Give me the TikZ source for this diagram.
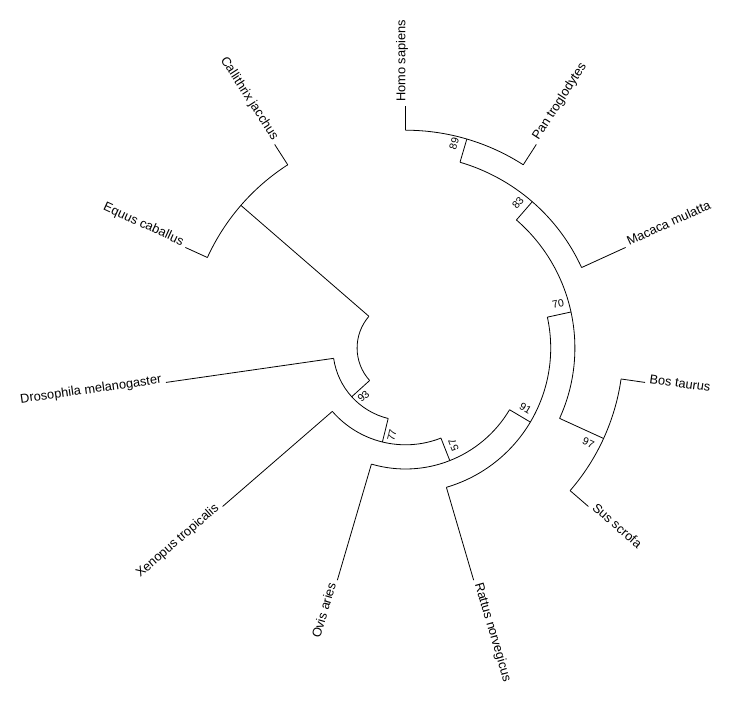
\documentclass[tikz,border=0pt]{standalone}
\usepackage{fontspec}
\setmainfont{Liberation Sans}
\usetikzlibrary{calc}
\begin{document}
\begin{tikzpicture}[x=1pt,y=1pt,
  br/.style={line width=0.8pt, black},
  tip/.style={font=\fontsize{12.8}{14}\selectfont, inner sep=0pt},
  nl/.style={font=\fontsize{10.5}{12}\selectfont, inner sep=0pt}]
\useasboundingbox (-405.5,-356) rectangle (334.5,348);
% ---- internal nodes (own position) and their attachment points on the parent arc
\coordinate (nEC)  at (139.09:217.8); \coordinate (nEC0) at (139.09:48.4);
\coordinate (n93)  at (222.19:72.6);  \coordinate (n930) at (222.19:48.4);
\coordinate (n77)  at (256.2:96.8);   \coordinate (n770) at (256.2:72.6);
\coordinate (n57)  at (-68.52:121);   \coordinate (n570) at (-68.52:96.8);
\coordinate (n91)  at (-30.68:145.2); \coordinate (n910) at (-30.68:121);
\coordinate (n70)  at (12.27:169.4);  \coordinate (n700) at (12.27:145.2);
\coordinate (n97)  at (-24.55:217.8); \coordinate (n970) at (-24.55:169.4);
\coordinate (n83)  at (49.09:193.6);  \coordinate (n830) at (49.09:169.4);
\coordinate (n89)  at (73.64:217.8);  \coordinate (n890) at (73.64:193.6);
% ---- tips
\coordinate (tHomo) at (90:242);      \coordinate (tHomo0) at (90:217.8);
\coordinate (tPan)  at (57.27:242);   \coordinate (tPan0)  at (57.27:217.8);
\coordinate (tMac)  at (24.55:242);   \coordinate (tMac0)  at (24.55:193.6);
\coordinate (tBos)  at (-8.18:242);   \coordinate (tBos0)  at (-8.18:217.8);
\coordinate (tSus)  at (-40.91:242);  \coordinate (tSus0)  at (-40.91:217.8);
\coordinate (tRat)  at (-73.64:242);  \coordinate (tRat0)  at (-73.64:145.2);
\coordinate (tOvis) at (253.64:242);  \coordinate (tOvis0) at (253.64:121);
\coordinate (tXen)  at (220.91:242);  \coordinate (tXen0)  at (220.91:96.8);
\coordinate (tDro)  at (188.18:242);  \coordinate (tDro0)  at (188.18:72.6);
\coordinate (tEqu)  at (155.45:242);  \coordinate (tEqu0)  at (155.45:217.8);
\coordinate (tCal)  at (122.73:242);  \coordinate (tCal0)  at (122.73:217.8);
% ---- arcs
\draw[br] (nEC0) arc[start angle=139.09, end angle=222.19, radius=48.4];
\draw[br] (tDro0) arc[start angle=188.18, end angle=256.2, radius=72.6];
\draw[br] (tXen0) arc[start angle=220.91, end angle=291.48, radius=96.8];
\draw[br] (tOvis0) arc[start angle=253.64, end angle=329.32, radius=121];
\draw[br] (tRat0) arc[start angle=-73.64, end angle=12.27, radius=145.2];
\draw[br] (n970) arc[start angle=-24.55, end angle=49.09, radius=169.4];
\draw[br] (tMac0) arc[start angle=24.55, end angle=73.64, radius=193.6];
\draw[br] (tPan0) arc[start angle=57.27, end angle=90, radius=217.8];
\draw[br] (tSus0) arc[start angle=-40.91, end angle=-8.18, radius=217.8];
\draw[br] (tCal0) arc[start angle=122.73, end angle=155.45, radius=217.8];
% ---- radial edges
\draw[br] (nEC0) -- (nEC);
\draw[br] (n930) -- (n93);
\draw[br] (n770) -- (n77);
\draw[br] (n570) -- (n57);
\draw[br] (n910) -- (n91);
\draw[br] (n700) -- (n70);
\draw[br] (n970) -- (n97);
\draw[br] (n830) -- (n83);
\draw[br] (n890) -- (n89);
\draw[br] (tHomo0) -- (tHomo);
\draw[br] (tPan0) -- (tPan);
\draw[br] (tMac0) -- (tMac);
\draw[br] (tBos0) -- (tBos);
\draw[br] (tSus0) -- (tSus);
\draw[br] (tRat0) -- (tRat);
\draw[br] (tOvis0) -- (tOvis);
\draw[br] (tXen0) -- (tXen);
\draw[br] (tDro0) -- (tDro);
\draw[br] (tEqu0) -- (tEqu);
\draw[br] (tCal0) -- (tCal);
% ---- tip labels
\node[tip, rotate=90,     anchor=base west] (lHomo) at (90:246)     {Homo sapiens};
\node[tip, rotate=57.27,  anchor=base west] (lPan)  at (57.27:246)  {Pan troglodytes};
\node[tip, rotate=24.55,  anchor=base west] (lMac)  at (24.55:246)  {Macaca mulatta};
\node[tip, rotate=-8.18,  anchor=base west] (lBos)  at (-8.18:246)  {Bos taurus};
\node[tip, rotate=-40.91, anchor=base west] (lSus)  at (-40.91:246) {Sus scrofa};
\node[tip, rotate=-73.64, anchor=base west] (lRat)  at (-73.64:246) {Rattus norvegicus};
\node[tip, rotate=73.64,  anchor=base east] (lOvis) at (253.64:246) {Ovis aries};
\node[tip, rotate=40.91,  anchor=base east] (lXen)  at (220.91:246) {Xenopus tropicalis};
\node[tip, rotate=8.18,   anchor=base east] (lDro)  at (188.18:246) {Drosophila melanogaster};
\node[tip, rotate=-24.55, anchor=base east] (lEqu)  at (155.45:246) {Equus caballus};
\node[tip, rotate=-57.27, anchor=base east] (lCal)  at (122.73:246) {Callithrix jacchus};
% ---- node (support) labels
\node[nl, rotate=73.64]  (b89) at ($(73.64:209.9)+(163.64:10.9)$) {89};
\node[nl, rotate=49.09]  (b83) at ($(49.09:183.4)+(139.09:10.2)$) {83};
\node[nl, rotate=12.27]  (b70) at ($(12.27:158.5)+(102.27:10.5)$) {70};
\node[nl, rotate=-24.55] (b97) at ($(-24.55:206)+(-114.55:10.5)$) {97};
\node[nl, rotate=-30.68] (b91) at ($(-30.68:134)+(59.32:9.1)$) {91};
\node[nl, rotate=111.48] (b57) at ($(-68.52:108.1)+(21.48:9.2)$) {57};
\node[nl, rotate=76.2]   (b77) at ($(256.2:88.1)+(346.2:7.7)$) {77};
\node[nl, rotate=42.19]  (b93) at ($(222.19:63.6)+(312.19:7.6)$) {93};
\end{tikzpicture}
\end{document}
